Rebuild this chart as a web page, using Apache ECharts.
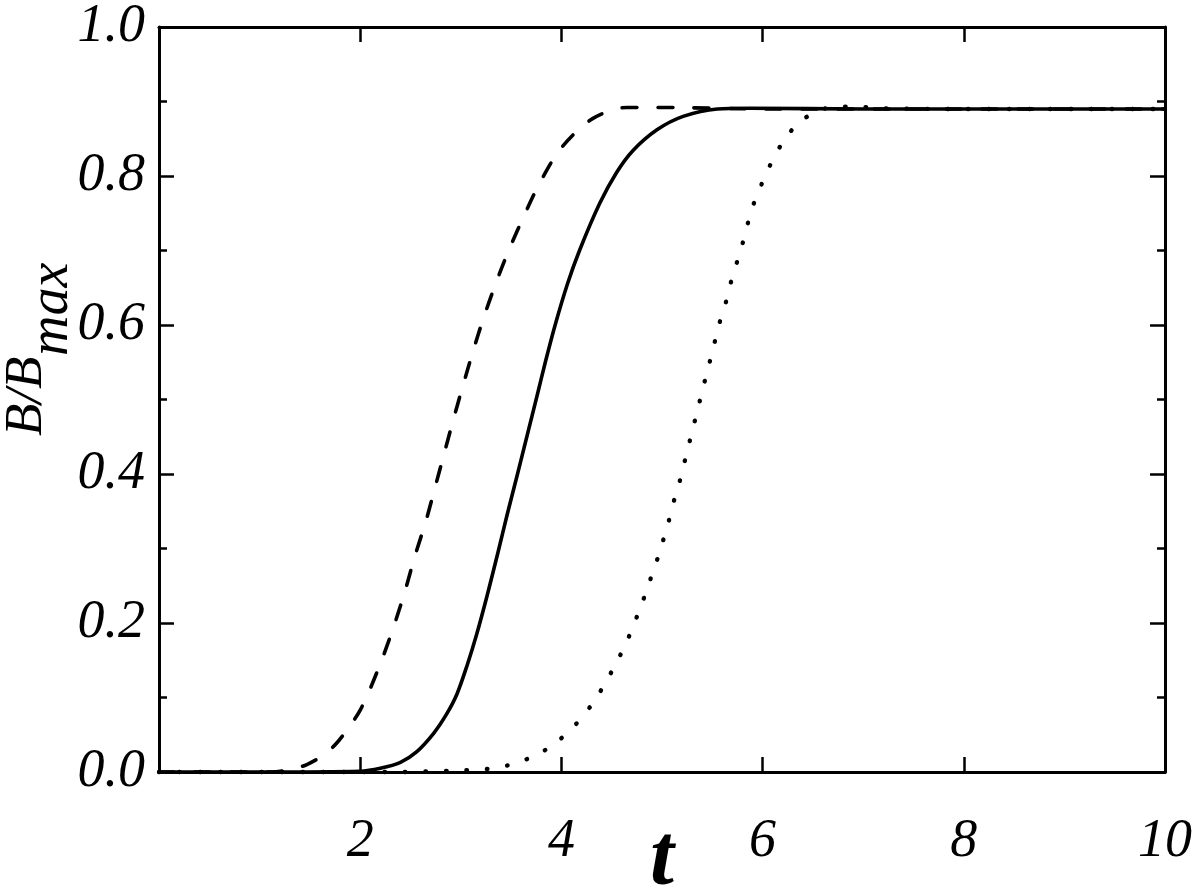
<!DOCTYPE html>
<html>
<head>
<meta charset="utf-8">
<script src="https://cdn.jsdelivr.net/npm/echarts@6/dist/echarts.min.js"></script>
<style>html,body{margin:0;padding:0;background:#fff;}#c{width:1200px;height:889px;}</style>
</head>
<body>
<div id="c"></div>
<script>
// x tick labels
const xTicks = [2, 4, 6, 8, 10];
const yTicks = [0.0, 0.2, 0.4, 0.6, 0.8, 1.0];

// solid curve
const tSolid = [0, 1.0, 2.0, 2.2, 2.4, 2.56, 2.73, 2.86, 2.96, 3.06, 3.16, 3.26, 3.37, 3.46, 3.56, 3.66, 3.76, 3.84, 3.94, 4.06, 4.18, 4.38, 4.55, 4.71, 4.95, 5.21, 5.55, 5.87, 7, 8, 9, 10];
const bSolid = [0, 0, 0.001, 0.005, 0.013, 0.027, 0.052, 0.078, 0.104, 0.142, 0.186, 0.236, 0.295, 0.345, 0.398, 0.452, 0.506, 0.55, 0.601, 0.655, 0.70, 0.763, 0.805, 0.834, 0.862, 0.880, 0.89, 0.891, 0.89, 0.89, 0.89, 0.89];

// dashed curve
const tDash = [0, 1.12, 1.30, 1.47, 1.65, 1.78, 1.92, 2.0, 2.10, 2.23, 2.35, 2.45, 2.54, 2.66, 2.74, 2.84, 2.92, 3.02, 3.12, 3.22, 3.34, 3.47, 3.64, 3.79, 4.0, 4.31, 4.65, 5.0, 6, 8, 10];
const bDash = [0, 0, 0.003, 0.01, 0.024, 0.041, 0.066, 0.083, 0.112, 0.156, 0.202, 0.245, 0.288, 0.34, 0.38, 0.43, 0.47, 0.518, 0.564, 0.607, 0.653, 0.698, 0.750, 0.792, 0.838, 0.877, 0.892, 0.892, 0.89, 0.89, 0.89];

// dotted curve
const tDot = [0, 2.4, 2.97, 3.17, 3.37, 3.57, 3.77, 3.97, 4.15, 4.31, 4.43, 4.54, 4.64, 4.72, 4.80, 4.87, 4.94, 5.0, 5.06, 5.11, 5.17, 5.22, 5.27, 5.32, 5.37, 5.42, 5.47, 5.52, 5.57, 5.63, 5.68, 5.74, 5.80, 5.85, 5.91, 5.99, 6.08, 6.19, 6.34, 6.54, 6.74, 6.94, 7.14, 8, 10];
const bDot = [0, 0, 0.002, 0.003, 0.006, 0.013, 0.024, 0.042, 0.065, 0.092, 0.118, 0.145, 0.172, 0.198, 0.226, 0.253, 0.28, 0.306, 0.333, 0.36, 0.387, 0.414, 0.441, 0.468, 0.495, 0.522, 0.548, 0.575, 0.602, 0.628, 0.655, 0.682, 0.709, 0.735, 0.762, 0.789, 0.816, 0.843, 0.869, 0.887, 0.893, 0.893, 0.891, 0.89, 0.89];

const zip = (a, b) => a.map((v, i) => [v, b[i]]);

const FONT = 'Liberation Serif';
const lbl = { fontFamily: FONT, fontStyle: 'italic', fontSize: 54, color: '#000' };
const lineW = 3;

const chart = echarts.init(document.getElementById('c'), null, { renderer: 'canvas' });
const option = {
  backgroundColor: '#fff',
  animation: false,
  grid: { left: 159, right: 35, top: 27, bottom: 117, containLabel: false, outerBoundsMode: 'none' },
  xAxis: [
    {
      type: 'value', min: 0, max: 10, interval: 2, position: 'bottom',
      axisLine: { show: true, onZero: false, lineStyle: { color: '#000', width: lineW } },
      axisTick: { show: true, inside: true, length: 15, lineStyle: { color: '#000', width: 2.5 } },
      axisLabel: Object.assign({}, lbl, { margin: 43, formatter: v => (xTicks.indexOf(v) >= 0 ? String(v) : '') }),
      splitLine: { show: false }
    },
    {
      type: 'value', min: 0, max: 10, interval: 2, position: 'top',
      axisLine: { show: true, onZero: false, lineStyle: { color: '#000', width: lineW } },
      axisTick: { show: true, inside: true, length: 15, lineStyle: { color: '#000', width: 2.5 } },
      axisLabel: { show: false },
      splitLine: { show: false }
    }
  ],
  yAxis: [
    {
      type: 'value', min: 0, max: 1, interval: 0.2, position: 'left',
      axisLine: { show: true, onZero: false, lineStyle: { color: '#000', width: lineW } },
      axisTick: { show: true, inside: true, length: 15, lineStyle: { color: '#000', width: 2.5 } },
      minorTick: { show: true, splitNumber: 2, length: 8, lineStyle: { color: '#000', width: 2.5 } },
      axisLabel: Object.assign({}, lbl, { margin: 14, formatter: v => v.toFixed(1) }),
      splitLine: { show: false }
    },
    {
      type: 'value', min: 0, max: 1, interval: 0.2, position: 'right',
      axisLine: { show: true, onZero: false, lineStyle: { color: '#000', width: lineW } },
      axisTick: { show: true, inside: true, length: 15, lineStyle: { color: '#000', width: 2.5 } },
      minorTick: { show: true, splitNumber: 2, length: 8, lineStyle: { color: '#000', width: 2.5 } },
      axisLabel: { show: false },
      splitLine: { show: false }
    }
  ],
  graphic: [
    {
      type: 'text', x: 662, y: 862,
      style: { text: 't', fontFamily: FONT, fontStyle: 'italic', fontWeight: 'bold', fontSize: 86, fill: '#000', align: 'center', verticalAlign: 'middle' }
    },
    {
      type: 'group', x: 54, y: 436, rotation: Math.PI / 2,
      children: [
        { type: 'text', x: 0, y: 0,
          style: { text: 'B/B', fontFamily: FONT, fontStyle: 'italic', fontSize: 53, fill: '#000', align: 'left', verticalAlign: 'bottom' } },
        { type: 'text', x: 80, y: 26,
          style: { text: 'max', fontFamily: FONT, fontStyle: 'italic', fontSize: 56, fill: '#000', align: 'left', verticalAlign: 'bottom' } }
      ]
    }
  ],
  series: [
    {
      name: 'solid', type: 'line', data: zip(tSolid, bSolid), showSymbol: false, symbol: 'none',
      smooth: 0.3, clip: false,
      lineStyle: { color: '#000', width: 3.6, type: 'solid', cap: 'round', join: 'round' }, z: 3
    },
    {
      name: 'dashed', type: 'line', data: zip(tDash, bDash), showSymbol: false, symbol: 'none',
      smooth: 0.3, clip: false,
      lineStyle: { color: '#000', width: 3.6, type: [15, 21], cap: 'round', join: 'round' }, z: 3
    },
    {
      name: 'dotted', type: 'line', data: zip(tDot, bDot), showSymbol: false, symbol: 'none',
      smooth: 0.3, clip: false,
      lineStyle: { color: '#000', width: 4.4, type: [0.5, 20], cap: 'round', join: 'round' }, z: 3
    }
  ]
};
chart.setOption(option);
</script>
</body>
</html>
